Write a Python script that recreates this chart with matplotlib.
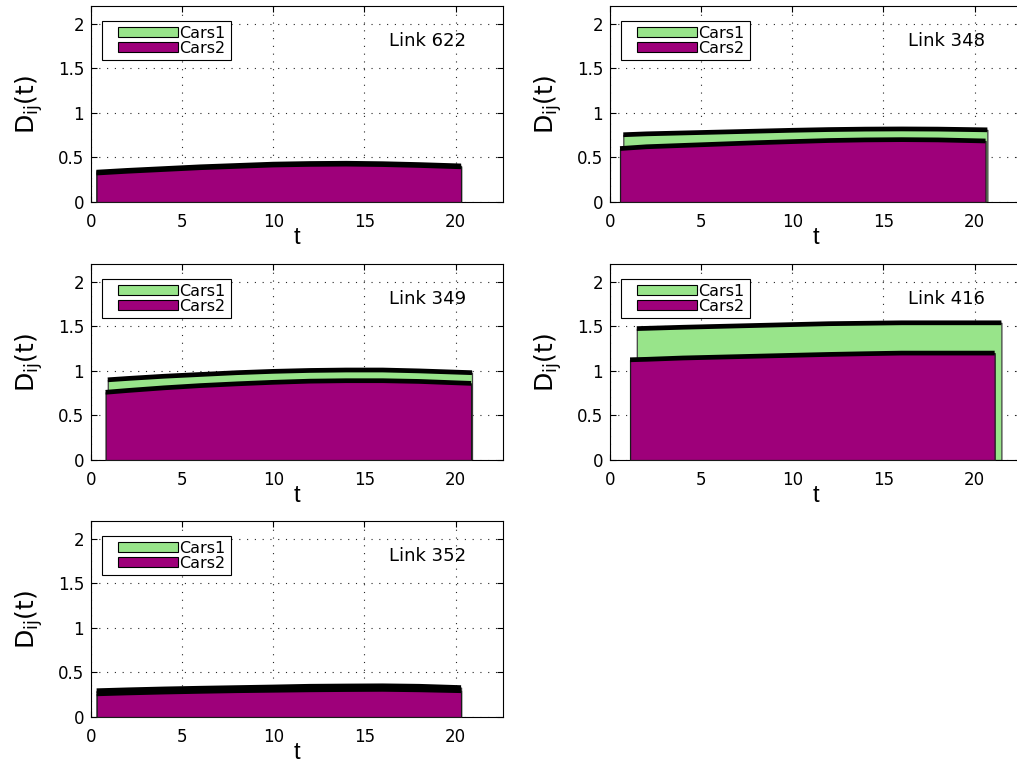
import matplotlib
matplotlib.use("Agg")
import matplotlib.pyplot as plt
from matplotlib.patches import Patch, Rectangle
from matplotlib.legend_handler import HandlerPatch

plt.rcParams['font.family'] = ['DejaVu Sans']
plt.rcParams['mathtext.fontset'] = 'custom'
plt.rcParams['mathtext.rm'] = 'Liberation Sans'
plt.rcParams['mathtext.it'] = 'Liberation Sans:italic'

# ---------------- data ----------------
links = ["Link 622", "Link 348", "Link 349", "Link 416", "Link 352"]

# Cars1 = upper (total) level, Cars2 = lower level
t1_622 = [0.3, 2, 4, 6, 8, 10, 12, 14, 16, 18, 20.3]
d1_622 = [0.335, 0.355, 0.375, 0.395, 0.41, 0.425, 0.432, 0.435, 0.43, 0.42, 0.405]
t2_622 = [0.3, 2, 4, 6, 8, 10, 12, 14, 16, 18, 20.3]
d2_622 = [0.325, 0.345, 0.365, 0.385, 0.40, 0.415, 0.422, 0.425, 0.42, 0.41, 0.395]

t1_348 = [0.73, 2, 4, 6, 8, 10, 12, 14, 16, 18, 20.7]
d1_348 = [0.755, 0.765, 0.775, 0.785, 0.795, 0.805, 0.813, 0.818, 0.82, 0.818, 0.81]
t2_348 = [0.55, 2, 4, 6, 8, 10, 12, 14, 16, 18, 20.6]
d2_348 = [0.60, 0.62, 0.635, 0.65, 0.665, 0.678, 0.69, 0.697, 0.70, 0.697, 0.685]

t1_349 = [0.92, 2, 4, 6, 8, 10, 12, 14, 16, 18, 20.9]
d1_349 = [0.90, 0.915, 0.94, 0.96, 0.98, 0.995, 1.005, 1.01, 1.01, 1.0, 0.98]
t2_349 = [0.8, 2, 4, 6, 8, 10, 12, 14, 16, 18, 20.85]
d2_349 = [0.76, 0.78, 0.81, 0.835, 0.855, 0.872, 0.885, 0.89, 0.89, 0.882, 0.86]

t1_416 = [1.47, 2, 4, 6, 8, 10, 12, 14, 16, 18, 21.47]
d1_416 = [1.475, 1.478, 1.49, 1.50, 1.51, 1.52, 1.53, 1.535, 1.54, 1.54, 1.54]
t2_416 = [1.1, 2, 4, 6, 8, 10, 12, 14, 16, 18, 21.1]
d2_416 = [1.125, 1.13, 1.145, 1.155, 1.165, 1.175, 1.185, 1.193, 1.20, 1.20, 1.20]

t1_352 = [0.31, 2, 4, 6, 8, 10, 12, 14, 16, 18, 20.3]
d1_352 = [0.295, 0.305, 0.315, 0.323, 0.33, 0.337, 0.345, 0.348, 0.35, 0.345, 0.33]
t2_352 = [0.31, 2, 4, 6, 8, 10, 12, 14, 16, 18, 20.3]
d2_352 = [0.26, 0.27, 0.28, 0.288, 0.295, 0.30, 0.305, 0.308, 0.31, 0.305, 0.295]

series = [
    (t1_622, d1_622, t2_622, d2_622),
    (t1_348, d1_348, t2_348, d2_348),
    (t1_349, d1_349, t2_349, d2_349),
    (t1_416, d1_416, t2_416, d2_416),
    (t1_352, d1_352, t2_352, d2_352),
]

legend_labels = ["Cars1", "Cars2"]
xticks = [0, 5, 10, 15, 20]
yticks = [0, 0.5, 1, 1.5, 2]
ytick_labels = ["0", "0.5", "1", "1.5", "2"]

GREEN = "#98E48A"
PURPLE = "#9E007A"

W, H = 1017, 763
fig = plt.figure(figsize=(W / 100, H / 100), dpi=100)

col_left = [91 / W, 610 / W]
ax_w = 412 / W
row_bottom_px = [202, 460, 717]
ax_h = 196 / H

positions = [(0, 0), (0, 1), (1, 0), (1, 1), (2, 0)]

INSET = 8  # px gap before legend swatch


def offset_patch(legend, orig_handle, xdescent, ydescent, width, height, fontsize):
    return Rectangle((-xdescent + INSET, -ydescent), width - INSET, height)


handler = HandlerPatch(patch_func=offset_patch)

for (r, c), name, (t1, d1, t2, d2) in zip(positions, links, series):
    ax = fig.add_axes([col_left[c], 1 - row_bottom_px[r] / H, ax_w, ax_h])
    ax.set_axisbelow(True)
    ax.fill_between(t1, 0, d1, facecolor=GREEN, edgecolor="0.25", linewidth=0.9, zorder=2)
    ax.plot(t1, d1, color="k", linewidth=3.4, solid_capstyle="butt", zorder=3)
    ax.fill_between(t2, 0, d2, facecolor=PURPLE, edgecolor="0.1", linewidth=0.9, zorder=4)
    ax.plot(t2, d2, color="k", linewidth=3.4, solid_capstyle="butt", zorder=5)

    ax.set_xlim(0, 22.6)
    ax.set_ylim(0, 2.2)
    ax.set_xticks(xticks)
    ax.set_yticks(yticks)
    ax.set_yticklabels(ytick_labels)
    ax.tick_params(direction="in", length=4, width=0.8, top=True, right=True,
                   labelsize=12)
    ax.tick_params(axis="x", pad=8)
    ax.tick_params(axis="y", pad=5)
    ax.grid(True, color="0.15", linestyle=(0, (1, 6)), linewidth=0.8)
    for s in ax.spines.values():
        s.set_linewidth(0.8)
        s.set_color("k")

    ax.set_xlabel("t", fontsize=17, labelpad=-3, family="Liberation Sans")
    ax.set_ylabel(r"$\mathregular{D_{ij}(t)}$", fontsize=18, labelpad=9)
    ax.text(0.723, 0.82, name, transform=ax.transAxes, fontsize=13,
            ha="left", va="center", zorder=6)

    handles = [Patch(facecolor=GREEN, edgecolor="k", linewidth=0.8),
               Patch(facecolor=PURPLE, edgecolor="k", linewidth=0.8)]
    leg = ax.legend(handles, legend_labels, loc="upper left",
                    handler_map={Patch: handler},
                    bbox_to_anchor=(0.027, 0.924), borderaxespad=0,
                    fontsize=11.5, handlelength=4.45, handleheight=0.65,
                    handletextpad=0.1, labelspacing=0.0, borderpad=0.3,
                    fancybox=False, framealpha=1, edgecolor="k")
    leg.get_frame().set_linewidth(0.8)
    leg.set_zorder(7)

fig.savefig("out.png", dpi=100)
